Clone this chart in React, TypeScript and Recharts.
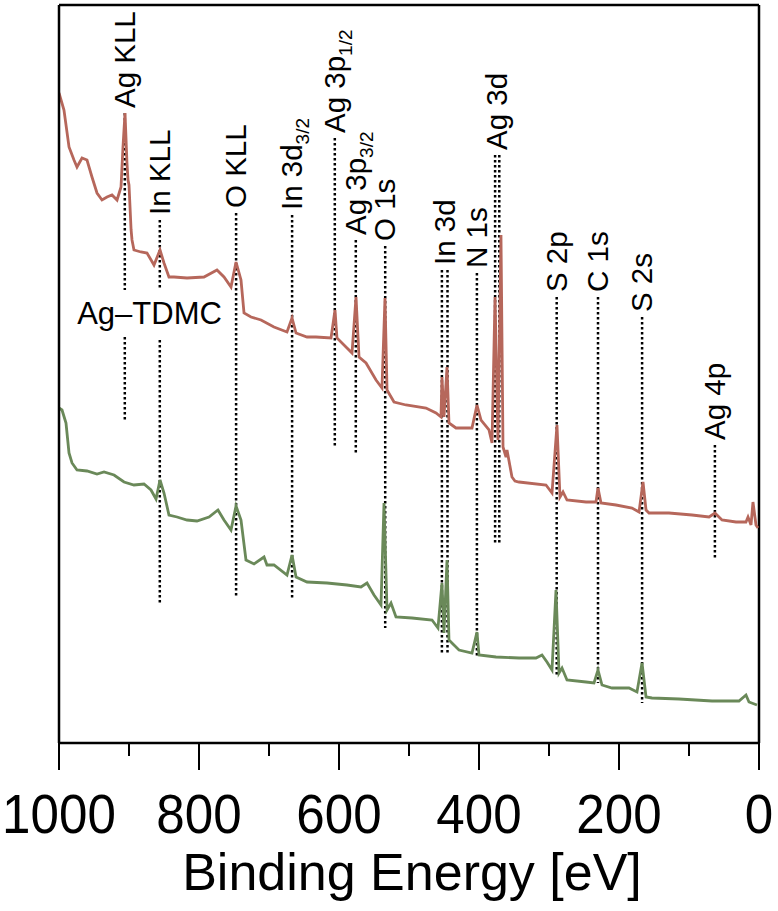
import React from 'react';
import { LineChart, Line, XAxis, YAxis, ReferenceLine, ReferenceDot, Label } from 'recharts';

// Binding energy (eV) and intensity (a.u.)
const agTdmcEnergy = [1000, 992.9, 985.7, 978.6, 974.3, 967.1, 960, 952.9, 945.7, 938.6, 931.4, 924.3, 917.1, 911.4, 908.6, 905.7, 902.9, 901.4, 900, 897, 895.7, 892.9, 882.9, 874.3, 864.3, 855.7, 850, 842.9, 835.7, 817.1, 792.9, 774.3, 764.3, 754.3, 747.1, 740, 735.7, 725.7, 711.4, 692.9, 674.3, 667.1, 661.4, 645.7, 632.9, 611.4, 605.7, 602.9, 595.7, 581.4, 575.7, 571.4, 561.4, 547.1, 538.6, 534.3, 531.4, 521.4, 504.3, 475.7, 461.4, 454.3, 452.9, 450, 445.7, 442.9, 432.9, 410, 402.9, 397.1, 385.7, 381.4, 377.1, 372.9, 368.6, 365.7, 361.4, 360, 352.9, 348.6, 342.9, 304.3, 295.7, 288.6, 284.3, 280, 274.3, 247.1, 232.9, 230, 225.7, 204.3, 181.4, 171.4, 165.7, 161.4, 157.1, 128.6, 95.7, 71.4, 62.9, 52.9, 32.9, 18.6, 15.7, 11.4, 8.6, 4.3, 1.4];
const agTdmcCounts = [650, 633, 596, 583, 576, 585, 583, 566, 550, 543, 546, 548, 543, 556, 596, 630, 580, 563, 558, 513, 503, 493, 491, 490, 478, 493, 480, 466, 466, 465, 466, 473, 466, 456, 481, 463, 430, 426, 423, 416, 411, 425, 410, 406, 406, 405, 433, 405, 400, 390, 446, 386, 380, 363, 355, 445, 353, 341, 338, 335, 330, 326, 366, 326, 376, 320, 315, 315, 338, 323, 313, 300, 446, 303, 508, 296, 286, 293, 266, 262, 261, 258, 250, 318, 246, 251, 243, 241, 241, 255, 240, 238, 235, 231, 261, 233, 230, 230, 228, 226, 230, 223, 221, 221, 226, 218, 241, 218, 215];

const refEnergy = [1000, 995.7, 990, 985.7, 981.4, 974.3, 960, 945.7, 935.7, 921.4, 907.1, 892.9, 878.6, 868.6, 861.4, 855.7, 850, 842.9, 831.4, 817.1, 802.9, 785.7, 772.9, 764.3, 754.3, 747.1, 740, 732.9, 721.4, 707.1, 702.9, 692.9, 674.3, 667.1, 661.4, 645.7, 617.1, 588.6, 568.6, 560, 550, 540, 535.7, 531.4, 525.7, 518.6, 495.7, 467.1, 458.6, 452.9, 450, 445.7, 442.9, 438.6, 428.6, 410, 402.9, 400, 375.7, 342.9, 318.6, 310, 302.9, 295.7, 290, 285.7, 281.4, 274.3, 247.1, 235.7, 230, 224.3, 210, 185.7, 174.3, 167.1, 161.4, 152.9, 114.3, 67.1, 28.6, 18.6, 14.3, 2.9];
const refCounts = [335, 333, 320, 290, 280, 273, 272, 269, 271, 268, 261, 258, 259, 253, 244, 263, 250, 228, 226, 223, 222, 226, 233, 223, 213, 237, 223, 183, 179, 186, 178, 178, 168, 188, 166, 161, 160, 158, 156, 160, 148, 138, 240, 133, 140, 126, 125, 123, 115, 160, 110, 183, 103, 100, 93, 90, 111, 88, 86, 85, 85, 88, 81, 73, 153, 70, 75, 63, 61, 60, 73, 58, 55, 55, 51, 80, 46, 45, 44, 42, 42, 48, 41, 38];

// Peak assignments: label, subscript, marker energies, dotted-line extents (intensity units)
const peakNames = ['Ag KLL', 'In KLL', 'O KLL', 'In 3d', 'Ag 3p', 'Ag 3p', 'O 1s', 'In 3d', 'N 1s', 'Ag 3d', 'S 2p', 'C 1s', 'S 2s', 'Ag 4p'];
const peakSubs = ['', '', '', '3/2', '1/2', '3/2', '', '', '', '', '', '', '', ''];
const peakEnergies = [[906], [856], [747], [667], [606], [576], [534], [453, 445], [403], [377, 371], [289], [230], [167], [63]];
const peakSegments = [
  [[630, 453], [406, 323]],
  [[523, 453], [403, 138]],
  [[530, 145]],
  [[528, 143]],
  [[605, 296]],
  [[503, 290]],
  [[497, 115]],
  [[473, 90]],
  [[470, 86]],
  [[588, 200]],
  [[446, 66]],
  [[446, 60]],
  [[426, 40]],
  [[298, 183]],
];

const sampleLabel = 'Ag–TDMC';
const sampleLabelPos = { ev: 974, v: 419 };

const xTicks = [0, 100, 200, 300, 400, 500, 600, 700, 800, 900, 1000];

const agData = agTdmcEnergy.map((e, i) => ({ ev: e, v: agTdmcCounts[i] }));
const refData = refEnergy.map((e, i) => ({ ev: e, v: refCounts[i] }));

const FONT = '"Liberation Sans", Arial, Helvetica, sans-serif';

const XTick = (props: any) => {
  const { x, y, payload } = props;
  const major = payload.value % 200 === 0;
  return (
    <g>
      <line x1={x} x2={x} y1={y} y2={y + (major ? 27 : 13)} stroke="#000" strokeWidth={2} />
      {major && (
        <text
          x={0}
          y={0}
          transform={`translate(${x}, ${y + 90}) scale(0.93, 1)`}
          textAnchor="middle"
          fontSize={55}
          fontFamily={FONT}
          fill="#000"
        >
          {payload.value}
        </text>
      )}
    </g>
  );
};

const AxisTitle = (props: any) => {
  const vb = props.viewBox || {};
  return (
    <text x={vb.x + vb.width / 2 + 3} y={vb.y + 147} textAnchor="middle" fontSize={52} fontFamily={FONT} fill="#000">
      Binding Energy [eV]
    </text>
  );
};

const makePeakLabel = (name: string, sub: string) => (props: any) => {
  const { cx, cy } = props;
  const x = cx + 10;
  const y = cy - 5;
  return (
    <text x={x} y={y} transform={`rotate(-90, ${x}, ${y})`} textAnchor="start" fontSize={29.5} fontFamily={FONT} fill="#000">
      {name}
      {sub && (
        <tspan fontSize={19} dy={7}>
          {sub}
        </tspan>
      )}
    </text>
  );
};

const SampleLabel = (props: any) => {
  const { cx, cy } = props;
  return (
    <text x={cx} y={cy} textAnchor="start" fontSize={31} fontFamily={FONT} fill="#000">
      {sampleLabel}
    </text>
  );
};

export default function App() {
  const lines: React.ReactNode[] = [];
  const labels: React.ReactNode[] = [];
  peakNames.forEach((name, i) => {
    const energies = peakEnergies[i];
    energies.forEach((e, j) => {
      peakSegments[i].forEach((seg, k) => {
        lines.push(
          <ReferenceLine
            key={`l-${i}-${j}-${k}`}
            segment={[{ x: e, y: seg[0] }, { x: e, y: seg[1] }]}
            stroke="#000"
            strokeWidth={2.5}
            strokeDasharray="2.5 2.5"
            ifOverflow="visible"
          />
        );
      });
    });
    const mid = energies.reduce((a, b) => a + b, 0) / energies.length;
    const top = peakSegments[i][0][0];
    labels.push(
      <ReferenceDot key={`t-${i}`} x={mid} y={top} r={0} ifOverflow="visible" shape={makePeakLabel(name, peakSubs[i])} />
    );
  });

  return (
    <div style={{ position: 'absolute', left: 0, top: 0, background: '#fff' }}>
      <LineChart width={778} height={911} margin={{ top: 5, right: 19, bottom: 0, left: 0 }}>
        <XAxis
          dataKey="ev"
          type="number"
          domain={[0, 1000]}
          reversed
          allowDataOverflow
          ticks={xTicks}
          interval={0}
          tick={<XTick />}
          tickLine={false}
          tickSize={0}
          tickMargin={0}
          height={168}
          axisLine={{ stroke: '#000', strokeWidth: 2.5 }}
        >
          <Label content={<AxisTitle />} />
        </XAxis>
        <YAxis
          type="number"
          domain={[0, 738]}
          allowDataOverflow
          tick={false}
          tickLine={false}
          width={59}
          axisLine={{ stroke: '#000', strokeWidth: 2.5 }}
        />
        <ReferenceLine y={738} stroke="#000" strokeWidth={2.5} ifOverflow="visible" />
        <ReferenceLine x={0} stroke="#000" strokeWidth={2.5} ifOverflow="visible" />
        {lines}
        <Line data={agData} dataKey="v" type="linear" dot={false} stroke="#b6675b" strokeWidth={2.8} isAnimationActive={false} />
        <Line data={refData} dataKey="v" type="linear" dot={false} stroke="#6a8959" strokeWidth={2.8} isAnimationActive={false} />
        {labels}
        <ReferenceDot x={sampleLabelPos.ev} y={sampleLabelPos.v} r={0} ifOverflow="visible" shape={<SampleLabel />} />
      </LineChart>
    </div>
  );
}
